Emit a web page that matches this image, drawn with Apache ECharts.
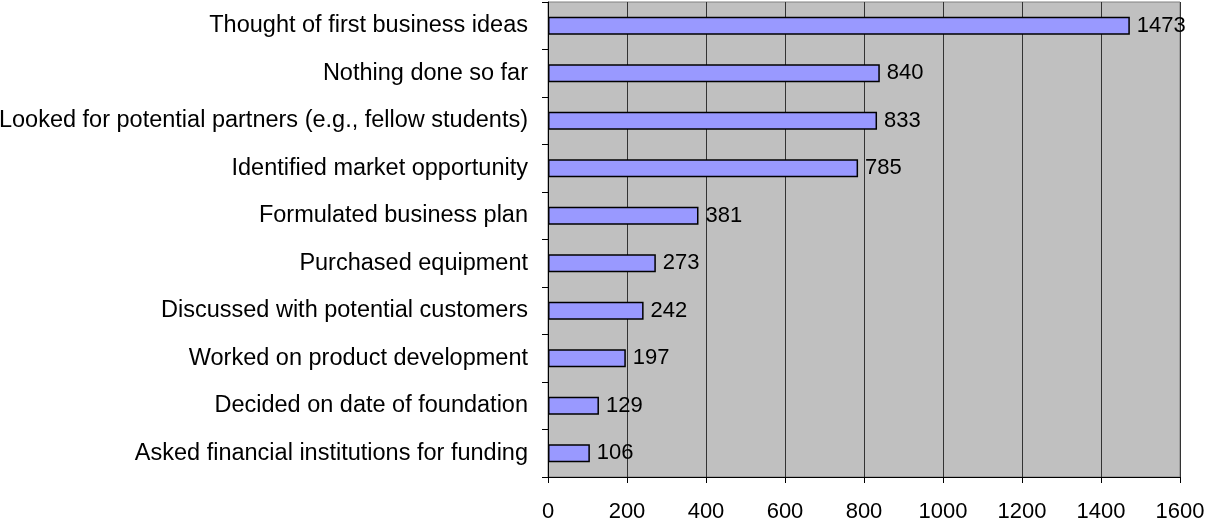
<!DOCTYPE html>
<html>
<head>
<meta charset="utf-8">
<script src="https://cdn.jsdelivr.net/npm/echarts@6/dist/echarts.min.js"></script>
<style>
  html, body { margin: 0; padding: 0; background: #fff; }
  #chart { width: 1208px; height: 524px; }
</style>
</head>
<body>
<div id="chart"></div>
<script>
// Startup activities reported so far (number of responses)
const activities = [
  'Thought of first business ideas',
  'Nothing done so far',
  'Looked for potential partners (e.g., fellow students)',
  'Identified market opportunity',
  'Formulated business plan',
  'Purchased equipment',
  'Discussed with potential customers',
  'Worked on product development',
  'Decided on date of foundation',
  'Asked financial institutions for funding'
];
const responses = [1473, 840, 833, 785, 381, 273, 242, 197, 129, 106];
const xTicks = { min: 0, max: 1600, interval: 200 };

const font = 'Liberation Sans, Arial, sans-serif';
const chart = echarts.init(document.getElementById('chart'), null, { renderer: 'canvas' });

chart.setOption({
  animation: false,
  grid: {
    left: 548, right: 28, top: 2, bottom: 47,
    containLabel: false,
    outerBoundsMode: 'none',
    show: true,
    backgroundColor: '#C0C0C0',
    borderColor: '#808080',
    borderWidth: 1
  },
  xAxis: {
    type: 'value',
    min: xTicks.min, max: xTicks.max, interval: xTicks.interval,
    axisLine: { show: true, lineStyle: { color: '#000', width: 1 } },
    axisTick: { show: true, length: 6, lineStyle: { color: '#000' } },
    axisLabel: {
      color: '#000', fontSize: 22, fontFamily: font, margin: 24,
      formatter: v => String(v)
    },
    splitLine: { show: true, lineStyle: { color: '#333', width: 1 } }
  },
  yAxis: {
    type: 'category',
    inverse: true,
    data: activities,
    axisLine: { show: true, lineStyle: { color: '#000', width: 1 } },
    axisTick: { show: true, length: 6, lineStyle: { color: '#000' } },
    axisLabel: { color: '#000', fontSize: 23.5, fontFamily: font, margin: 20 },
    splitLine: { show: false }
  },
  series: [{
    type: 'bar',
    data: responses,
    barWidth: 18,
    itemStyle: { color: '#9999FF', borderColor: '#000', borderWidth: 1.5 },
    label: {
      show: true,
      position: 'right',
      distance: 7,
      color: '#000',
      fontSize: 22,
      fontFamily: font
    }
  }]
});
</script>
</body>
</html>
